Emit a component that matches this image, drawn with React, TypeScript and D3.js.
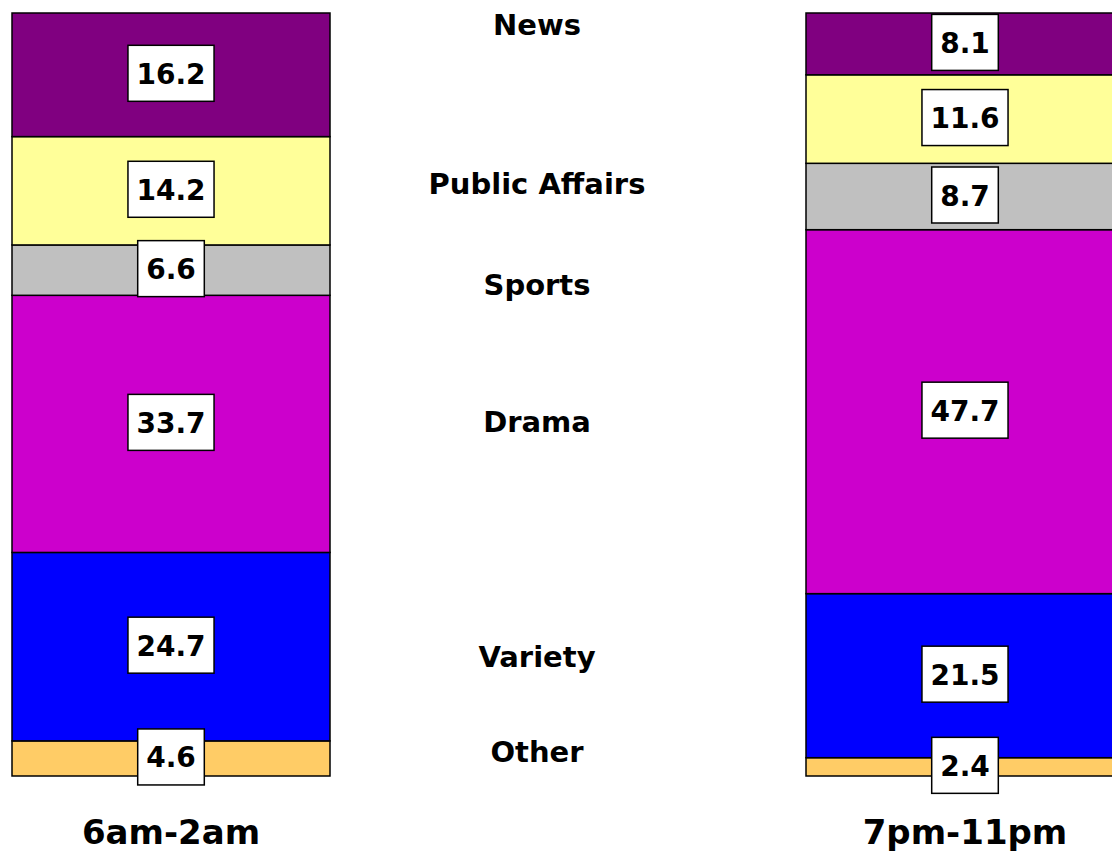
import React, { useMemo } from "react";
import * as d3 from "d3";

const categories = ["News", "Public Affairs", "Sports", "Drama", "Variety", "Other"];
const periods = ["6am-2am", "7pm-11pm"];
const values6am2am = [16.2, 14.2, 6.6, 33.7, 24.7, 4.6];
const values7pm11pm = [8.1, 11.6, 8.7, 47.7, 21.5, 2.4];
const colors = ["#800080", "#FFFF99", "#C0C0C0", "#CC00CC", "#0000FF", "#FFCC66"];
// vertical placement (layout) of the middle category labels
const categoryLabelY = [25, 184, 285, 422, 657, 752];

const W = 1112;
const H = 852;
const FONT = "'DejaVu Sans', Verdana, sans-serif";

function measure(text: string, size: number) {
  if (typeof document === "undefined") return text.length * size * 0.62;
  const c = document.createElement("canvas");
  const ctx = c.getContext("2d");
  if (!ctx) return text.length * size * 0.62;
  ctx.font = `bold ${size}px 'DejaVu Sans'`;
  return ctx.measureText(text).width;
}

export default function App() {
  const y = d3.scaleLinear().domain([0, 100]).range([776, 13]);
  const x = d3.scalePoint<string>().domain(periods).range([171, 965]);
  const barW = 318;

  const series = useMemo(() => {
    const rows = categories.map((c, i) => ({ cat: c, a: values6am2am[i], b: values7pm11pm[i] }));
    const table = periods.map((p, pi) => {
      const o: any = { period: p };
      rows.forEach((r) => (o[r.cat] = pi === 0 ? r.a : r.b));
      return o;
    });
    const keys = categories.slice().reverse();
    return d3.stack<any>().keys(keys)(table);
  }, []);

  const boxes: React.ReactNode[] = [];
  const rects: React.ReactNode[] = [];
  series.forEach((s) => {
    const ci = categories.indexOf(s.key);
    s.forEach((d: any) => {
      const cx = x(d.data.period)!;
      const y0 = y(d[0]);
      const y1 = y(d[1]);
      rects.push(
        <rect
          key={`r-${s.key}-${d.data.period}`}
          x={cx - barW / 2}
          y={y1}
          width={barW}
          height={y0 - y1}
          fill={colors[ci]}
          stroke="#000"
          strokeWidth={1.5}
        />
      );
      const v = d[1] - d[0];
      const label = v.toFixed(1);
      const tw = measure(label, 28);
      const bw = tw + 17;
      const bh = 56;
      const my = (y0 + y1) / 2 - 1.5;
      boxes.push(
        <g key={`b-${s.key}-${d.data.period}`}>
          <rect x={cx - bw / 2} y={my - bh / 2} width={bw} height={bh} fill="#fff" stroke="#000" strokeWidth={1.5} />
          <text
            x={cx}
            y={my + 1}
            textAnchor="middle"
            dominantBaseline="central"
            fontFamily={FONT}
            fontWeight="bold"
            fontSize={28}
            fill="#000"
          >
            {label}
          </text>
        </g>
      );
    });
  });

  return (
    <svg
      width={W}
      height={H}
      style={{ position: "absolute", left: 0, top: 0, display: "block", background: "#fff" }}
    >
      <rect x={0} y={0} width={W} height={H} fill="#fff" />
      {rects}
      {boxes}
      {categories.map((c, i) => (
        <text
          key={c}
          x={537}
          y={categoryLabelY[i]}
          textAnchor="middle"
          dominantBaseline="central"
          fontFamily={FONT}
          fontWeight="bold"
          fontSize={29}
          fill="#000"
        >
          {c}
        </text>
      ))}
      {periods.map((p) => (
        <text
          key={p}
          x={x(p)!}
          y={844}
          textAnchor="middle"
          fontFamily={FONT}
          fontWeight="bold"
          fontSize={34}
          fill="#000"
        >
          {p}
        </text>
      ))}
    </svg>
  );
}
